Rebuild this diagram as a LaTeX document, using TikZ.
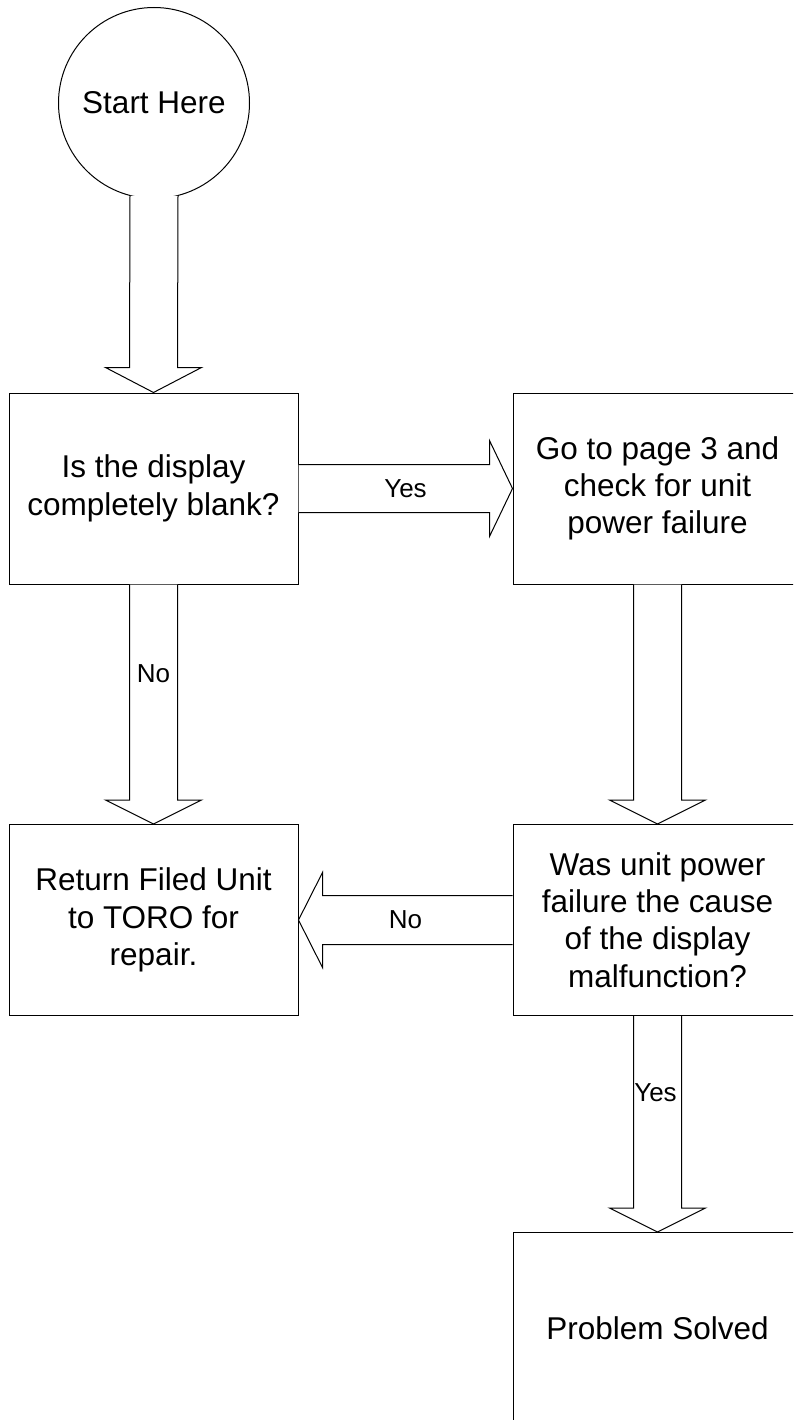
\documentclass[tikz,border=0pt]{standalone}
\usepackage{fontspec}
\setmainfont{Liberation Sans}
\usetikzlibrary{calc}
\tikzset{
  box/.style={draw=black, line width=1pt, rectangle, minimum width=289pt, minimum height=191pt,
    inner sep=0pt, align=center, font=\fontsize{31.5}{37.3}\selectfont},
  startnode/.style={draw=black, line width=1pt, circle, minimum size=191pt, inner sep=0pt,
    align=center, font=\fontsize{31.5}{37.3}\selectfont},
  blockarrow/.style={draw=black, fill=white, line width=1pt, line join=miter},
  lbl/.style={inner sep=0pt, font=\fontsize{26}{30}\selectfont}
}
\begin{document}
\begin{tikzpicture}[x=1pt, y=-1pt]
\useasboundingbox (0,0) rectangle (793,1420);
\clip (0,0) rectangle (793,1420);

% flowchart steps
\node[startnode] (start) at (154,103) {Start Here};
\node[box] (q1) at (153.5,488.5) {Is the display\\completely blank?};
\node[box] (go3) at (657.5,488.5) {Go to page 3 and\\check for unit\\power failure};
\node[box] (ret) at (153.5,920) {Return Filed Unit\\to TORO for\\repair.};
\node[box] (q2) at (657.5,920) {Was unit power\\failure the cause\\of the display\\malfunction?};
\node[box] (solved) at (657.5,1328) {Problem Solved};

% start -> first question
\filldraw[blockarrow] ($(start.south)+(-24,-3)$) -- ($(q1.north)+(-24,-25)$) -- ($(q1.north)+(-48,-25)$)
  -- (q1.north) -- ($(q1.north)+(48,-25)$) -- ($(q1.north)+(24,-25)$) -- ($(start.south)+(24,-3)$);

% first question, yes branch
\filldraw[blockarrow] ($(q1.east)+(0,-24)$) -- ($(go3.west)+(-23,-24)$) -- ($(go3.west)+(-23,-48)$)
  -- (go3.west) -- ($(go3.west)+(-23,48)$) -- ($(go3.west)+(-23,24)$) -- ($(q1.east)+(0,24)$);
\node[lbl] (yes1) at ($(q1.east)!0.5!(go3.west)$) {Yes};

% first question, no branch
\filldraw[blockarrow] ($(q1.south)+(-24,0)$) -- ($(ret.north)+(-24,-24)$) -- ($(ret.north)+(-48,-24)$)
  -- (ret.north) -- ($(ret.north)+(48,-24)$) -- ($(ret.north)+(24,-24)$) -- ($(q1.south)+(24,0)$);
\node[lbl] (no1) at ($(q1.south)+(0,89)$) {No};

% page 3 check -> second question
\filldraw[blockarrow] ($(go3.south)+(-24,0)$) -- ($(q2.north)+(-24,-24)$) -- ($(q2.north)+(-48,-24)$)
  -- (q2.north) -- ($(q2.north)+(48,-24)$) -- ($(q2.north)+(24,-24)$) -- ($(go3.south)+(24,0)$);

% second question, no branch
\filldraw[blockarrow] ($(q2.west)+(0,-24.5)$) -- ($(ret.east)+(24,-24.5)$) -- ($(ret.east)+(24,-47.5)$)
  -- (ret.east) -- ($(ret.east)+(24,47.5)$) -- ($(ret.east)+(24,24.5)$) -- ($(q2.west)+(0,24.5)$);
\node[lbl] (no2) at ($(q2.west)!0.5!(ret.east)$) {No};

% second question, yes branch
\filldraw[blockarrow] ($(q2.south)+(-24,0)$) -- ($(solved.north)+(-24,-24)$) -- ($(solved.north)+(-48,-24)$)
  -- (solved.north) -- ($(solved.north)+(48,-24)$) -- ($(solved.north)+(24,-24)$) -- ($(q2.south)+(24,0)$);
\node[lbl] (yes2) at ($(q2.south)+(-2,77)$) {Yes};
\end{tikzpicture}
\end{document}
